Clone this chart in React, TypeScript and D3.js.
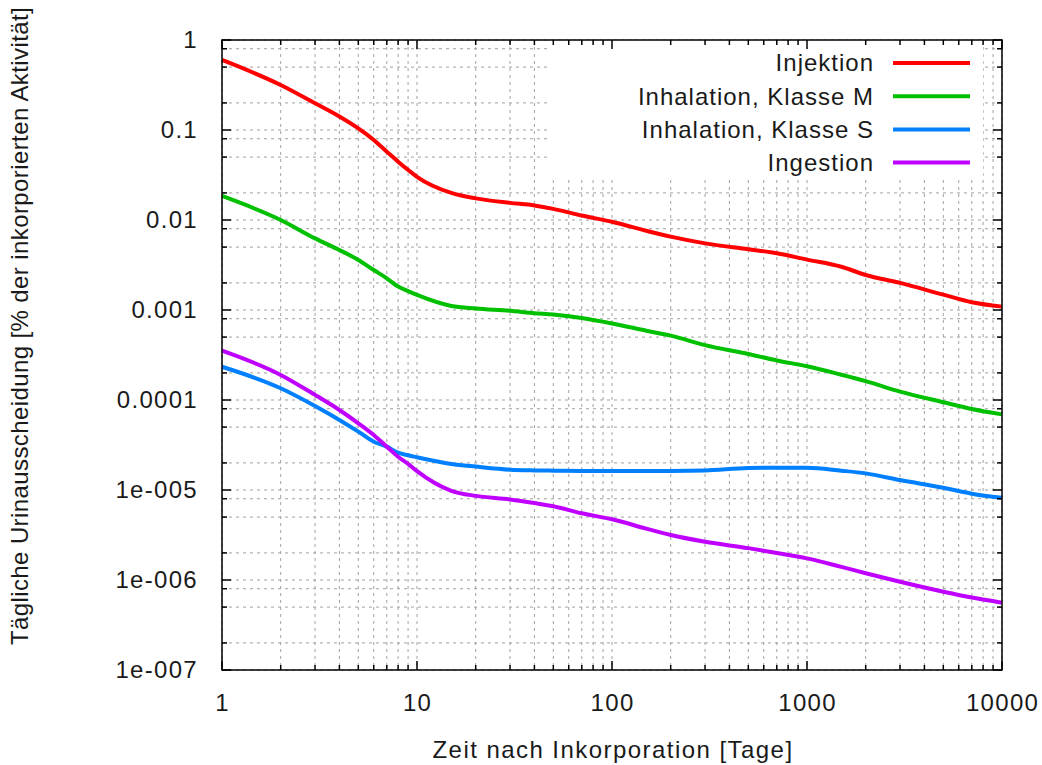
import React from "react";
import * as d3 from "d3";

// Days after intake (shared sampling grid for all four pathways)
const days = [1, 2, 3, 4, 5, 6, 7, 8, 9, 10, 15, 20, 30, 40, 50, 70, 100, 150, 200, 300, 500, 700, 1000, 1500, 2000, 3000, 5000, 7000, 10000];

// Daily urinary excretion [% of incorporated activity]
const injektion = [0.6, 0.316, 0.198, 0.141, 0.104, 0.0774, 0.0574, 0.0445, 0.036, 0.0302, 0.02, 0.0174, 0.0155, 0.0145, 0.0133, 0.0112, 0.00955, 0.00759, 0.00653, 0.0055, 0.00473, 0.00427, 0.00363, 0.00302, 0.00245, 0.002, 0.00148, 0.00122, 0.00109];
const inhalationM = [0.0185, 0.01, 0.00625, 0.00464, 0.0036, 0.00278, 0.00225, 0.00182, 0.00162, 0.00147, 0.00111, 0.00104, 0.00098, 0.000923, 0.000891, 0.000813, 0.000708, 0.000589, 0.000519, 0.000407, 0.000324, 0.000275, 0.000237, 0.000191, 0.000162, 0.000124, 9.44e-5, 7.94e-5, 6.92e-5];
const inhalationS = [2.34e-4, 1.35e-4, 8.57e-5, 6.0e-5, 4.45e-5, 3.44e-5, 3.03e-5, 2.6e-5, 2.43e-5, 2.31e-5, 1.95e-5, 1.82e-5, 1.68e-5, 1.65e-5, 1.64e-5, 1.63e-5, 1.63e-5, 1.63e-5, 1.63e-5, 1.65e-5, 1.76e-5, 1.77e-5, 1.77e-5, 1.64e-5, 1.53e-5, 1.29e-5, 1.06e-5, 9.1e-6, 8.2e-6];
const ingestion = [3.53e-4, 1.9e-4, 1.14e-4, 7.74e-5, 5.51e-5, 4.08e-5, 3.03e-5, 2.34e-5, 1.95e-5, 1.62e-5, 9.8e-6, 8.6e-6, 7.85e-6, 7.16e-6, 6.6e-6, 5.51e-6, 4.73e-6, 3.72e-6, 3.16e-6, 2.66e-6, 2.26e-6, 2.0e-6, 1.74e-6, 1.4e-6, 1.19e-6, 9.55e-7, 7.41e-7, 6.38e-7, 5.6e-7];

const seriesNames = ["Injektion", "Inhalation, Klasse M", "Inhalation, Klasse S", "Ingestion"];
const seriesValues = [injektion, inhalationM, inhalationS, ingestion];
const seriesColors = ["#ff0000", "#00c000", "#0080ff", "#c000ff"];

const xTickValues = [1, 10, 100, 1000, 10000];
const xTickLabels = ["1", "10", "100", "1000", "10000"];
const yTickValues = [1, 0.1, 0.01, 0.001, 0.0001, 1e-5, 1e-6, 1e-7];
const yTickLabels = ["1", "0.1", "0.01", "0.001", "0.0001", "1e-005", "1e-006", "1e-007"];

const xTitle = "Zeit nach Inkorporation [Tage]";
const yTitle = "Tägliche Urinausscheidung [% der inkorporierten Aktivität]";

const W = 1042;
const H = 765;
const left = 222;
const right = 1002;
const top = 40;
const bottom = 670;
const FONT = "'Liberation Sans', Arial, sans-serif";
const TEXT = "#1a1a1a";

export default function App() {
  const x = d3.scaleLog().domain([1, 10000]).range([left, right]);
  const y = d3.scaleLog().domain([1e-7, 1]).range([bottom, top]);

  // minor positions: every integer multiple in x, 2/5/8 multiples in y
  const xGrid: number[] = [];
  for (let e = 0; e < 4; e++) for (let m = 1; m <= 9; m++) xGrid.push(m * Math.pow(10, e));
  xGrid.push(10000);
  const yMinor: number[] = [];
  for (let e = -7; e < 0; e++) for (const m of [2, 5, 8]) yMinor.push(m * Math.pow(10, e));
  const yGrid = [...yTickValues, ...yMinor];

  const line = d3
    .line<[number, number]>()
    .x((d) => x(d[0]))
    .y((d) => y(d[1]))
    .curve(d3.curveMonotoneX);

  const isMajorX = (v: number) => Math.abs(Math.log10(v) - Math.round(Math.log10(v))) < 1e-9;

  const legendRowY = (i: number) => 63 + i * 33.2;

  return (
    <svg width={W} height={H} style={{ position: "absolute", left: 0, top: 0, background: "#fff" }} fontFamily={FONT}>
      <rect x={0} y={0} width={W} height={H} fill="#fff" />
      {/* grid */}
      <g stroke="#a0a0a0" strokeWidth={1} strokeDasharray="3,4" fill="none">
        {xGrid.map((v, i) => (
          <line key={"gx" + i} x1={x(v)} x2={x(v)} y1={top} y2={bottom} />
        ))}
        {yGrid.map((v, i) => (
          <line key={"gy" + i} x1={left} x2={right} y1={y(v)} y2={y(v)} />
        ))}
      </g>
      {/* legend background */}
      <rect x={548} y={top} width={435} height={137} fill="#fff" />
      {/* curves */}
      {seriesValues.map((vals, i) => (
        <path
          key={"s" + i}
          d={line(days.map((d, j) => [d, vals[j]] as [number, number])) || ""}
          fill="none"
          stroke={seriesColors[i]}
          strokeWidth={4}
          strokeLinejoin="round"
        />
      ))}
      {/* frame and ticks */}
      <g stroke="#000" strokeWidth={1.5}>
        <rect x={left} y={top} width={right - left} height={bottom - top} fill="none" />
        {xGrid.map((v, i) => {
          const len = isMajorX(v) ? 9 : 5;
          return (
            <g key={"tx" + i}>
              <line x1={x(v)} x2={x(v)} y1={bottom} y2={bottom - len} />
              <line x1={x(v)} x2={x(v)} y1={top} y2={top + len} />
            </g>
          );
        })}
        {yGrid.map((v, i) => {
          const len = i < yTickValues.length ? 9 : 5;
          return (
            <g key={"ty" + i}>
              <line x1={left} x2={left + len} y1={y(v)} y2={y(v)} />
              <line x1={right} x2={right - len} y1={y(v)} y2={y(v)} />
            </g>
          );
        })}
      </g>
      {/* tick labels */}
      <g fontSize={24} fill={TEXT} letterSpacing={1.3}>
        {yTickValues.map((v, i) => (
          <text key={"ly" + i} x={198} y={y(v)} dy="0.35em" textAnchor="end">
            {yTickLabels[i]}
          </text>
        ))}
        {xTickValues.map((v, i) => (
          <text key={"lx" + i} x={x(v) + 0.6} y={711} textAnchor="middle">
            {xTickLabels[i]}
          </text>
        ))}
      </g>
      {/* axis titles */}
      <text x={613} y={758} fontSize={24} letterSpacing={1.45} textAnchor="middle" fill={TEXT}>
        {xTitle}
      </text>
      <text transform="translate(28,326) rotate(-90)" fontSize={24} letterSpacing={0.4} textAnchor="middle" fill={TEXT}>
        {yTitle}
      </text>
      {/* legend */}
      {seriesNames.map((name, i) => (
        <g key={"lg" + i}>
          <text x={874} y={legendRowY(i)} dy="0.35em" fontSize={24} letterSpacing={1.0} textAnchor="end" fill={TEXT}>
            {name}
          </text>
          <line x1={893} x2={970} y1={legendRowY(i)} y2={legendRowY(i)} stroke={seriesColors[i]} strokeWidth={4} />
        </g>
      ))}
    </svg>
  );
}
